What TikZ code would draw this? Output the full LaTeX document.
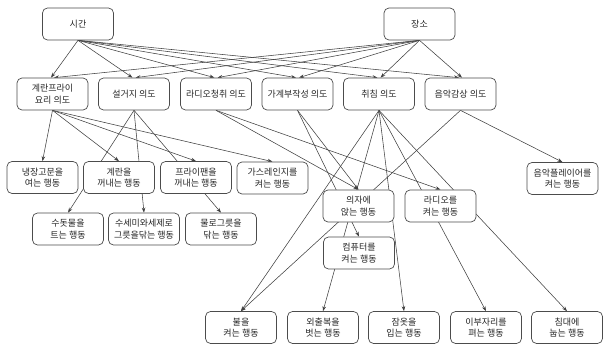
\documentclass[tikz,border=0pt]{standalone}
\usepackage{fontspec}
\setmainfont{Noto Sans CJK KR}
\usetikzlibrary{arrows.meta,backgrounds}
\begin{document}
\begin{tikzpicture}[x=1pt,y=-1pt,
  box/.style={draw=black!70, line width=0.7pt, rounded corners=5pt, fill=white,
    minimum width=71pt, minimum height=32pt, inner sep=1pt, align=center,
    font=\fontsize{9}{11.5}\selectfont, text=black!85},
  link/.style={draw=black!75, line width=0.55pt, -{Stealth[length=5pt,width=3.6pt]}},
]
\useasboundingbox (0,0) rectangle (603,347);
% top
\node[box] (t) at (78,24) {시간};
\node[box] (p) at (419.5,24) {장소};
% intents
\node[box] (i1) at (52.5,94) {계란프라이\\요리 의도};
\node[box] (i2) at (134,94) {설거지 의도};
\node[box] (i3) at (216,94) {라디오청취 의도};
\node[box] (i4) at (297.5,94) {가계부작성 의도};
\node[box] (i5) at (379,94) {취침 의도};
\node[box] (i6) at (460.5,94) {음악감상 의도};
% row 3
\node[box] (b1) at (42.5,177.5) {냉장고문을\\여는 행동};
\node[box] (b2) at (119,177.5) {계란을\\꺼내는 행동};
\node[box] (b3) at (196,177.5) {프라이팬을\\꺼내는 행동};
\node[box] (b4) at (272.5,178) {가스레인지를\\켜는 행동};
\node[box] (b5) at (562.5,178.5) {음악플레이어를\\켜는 행동};
% row 4
\node[box] (c1) at (68,229) {수돗물을\\트는 행동};
\node[box] (c2) at (144,229) {수세미와세제로\\그릇을닦는 행동};
\node[box] (c3) at (221,229) {물로그릇을\\닦는 행동};
\node[box] (d1) at (358.5,206) {의자에\\앉는 행동};
\node[box] (d2) at (440.5,206) {라디오를\\켜는 행동};
\node[box] (d3) at (359,253) {컴퓨터를\\켜는 행동};
% bottom
\node[box] (e1) at (241,327.5) {불을\\켜는 행동};
\node[box] (e2) at (323,327.5) {외출복을\\벗는 행동};
\node[box] (e3) at (404,327.5) {잠옷을\\입는 행동};
\node[box] (e4) at (486,327.5) {이부자리를\\펴는 행동};
\node[box] (e5) at (567,327.5) {침대에\\눕는 행동};

\begin{pgfonlayer}{background}
\foreach \n in {i1,i2,i3,i4,i5,i6}{
  \draw[link] (t.south) -- ([xshift=-1.5pt]\n.north);
  \draw[link] (p.south) -- ([xshift=1.5pt]\n.north);
}
\foreach \n in {b1,b2,b3,b4}{\draw[link] (i1.south) -- (\n.north);}
\foreach \n in {c1,c2,c3}{\draw[link] (i2.south) -- (\n.north);}
\foreach \n in {d1,d2}{\draw[link] (i3.south) -- (\n.north);}
\foreach \n in {d1,d3}{\draw[link] (i4.south) -- (\n.north);}
\foreach \n in {e1,e2,e3,e4,e5}{\draw[link] (i5.south) -- (\n.north);}
\foreach \n in {b5,e1}{\draw[link] (i6.south) -- (\n.north);}
\end{pgfonlayer}
\end{tikzpicture}
\end{document}
